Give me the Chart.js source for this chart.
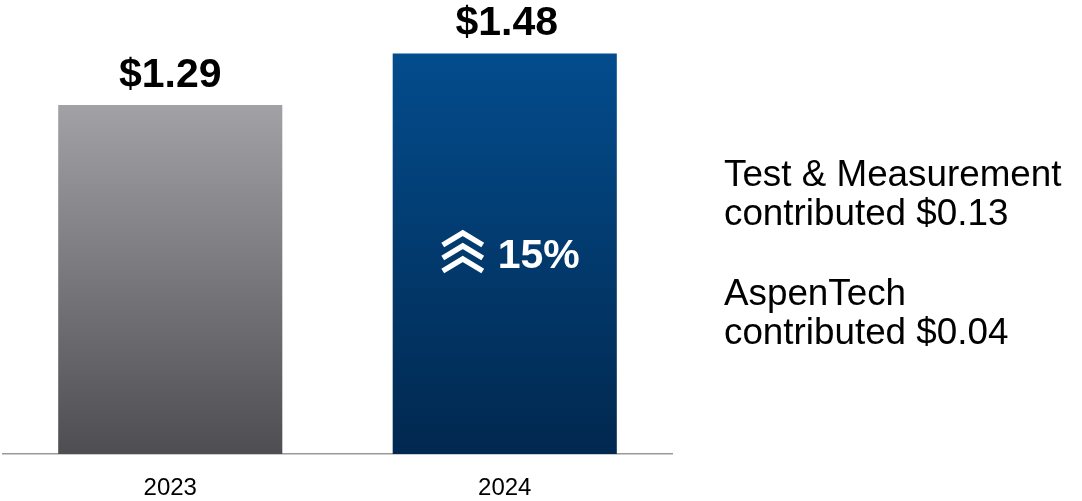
<!DOCTYPE html>
<html>
<head>
<meta charset="utf-8">
<script src="https://cdn.jsdelivr.net/npm/chart.js@4"></script>
<style>
  body { margin: 0; background: #fff; }
  #wrap { position: relative; width: 1082px; height: 501px; }
  .note { position: absolute; left: 724px; font-family: "Liberation Sans", Arial, sans-serif; font-size: 36.8px; color: #000; line-height: 39px; white-space: nowrap; }
</style>
</head>
<body>
<div id="wrap">
  <canvas id="epsChart" width="1082" height="501"></canvas>
  <div class="note" style="top:154px">Test &amp; Measurement<br>contributed $0.13</div>
  <div class="note" style="top:273px">AspenTech<br>contributed $0.04</div>
</div>
<script>
const years = ['2023', '2024'];
const eps = [1.29, 1.48];
const valueLabels = ['$1.29', '$1.48'];
const growthLabel = '15%';
const topColors = ['#a2a2a6', '#034c8d'];
const bottomColors = ['#4e4e52', '#01284f'];

// value labels above bars + growth badge inside 2024 bar
const barLabels = {
    id: 'barLabels',
    afterDatasetsDraw(chart) {
        const ctx = chart.ctx;
        const meta = chart.getDatasetMeta(0);
        ctx.save();
        ctx.textAlign = 'center';
        ctx.textBaseline = 'alphabetic';
        ctx.font = 'bold 41px "Liberation Sans", Arial, sans-serif';
        ctx.fillStyle = '#000';
        meta.data.forEach(function(bar, i) {
            ctx.fillText(valueLabels[i], bar.x + (i === 1 ? 2 : 0), bar.y - 18);
        });

        // growth badge
        const bar = meta.data[1];
        ctx.fillStyle = '#fff';
        ctx.textAlign = 'left';
        ctx.fillText(growthLabel, bar.x - 7, 268);

        // chevrons
        ctx.strokeStyle = '#fff';
        ctx.lineWidth = 5.5;
        ctx.lineCap = 'butt';
        ctx.lineJoin = 'miter';
        const cx = bar.x - 42;
        for (let k = 0; k < 3; k++) {
            const ay = 233 + k * 13;
            ctx.beginPath();
            ctx.moveTo(cx - 20, ay + 12);
            ctx.lineTo(cx, ay);
            ctx.lineTo(cx + 20, ay + 12);
            ctx.stroke();
        }
        ctx.restore();
    }
};

new Chart(document.getElementById('epsChart'), {
    type: 'bar',
    data: {
        labels: years,
        datasets: [{
            data: eps,
            backgroundColor: function(context) {
                const chart = context.chart;
                const area = chart.chartArea;
                if (!area) return topColors[context.dataIndex];
                const yScale = chart.scales.y;
                const top = yScale.getPixelForValue(eps[context.dataIndex]);
                const g = chart.ctx.createLinearGradient(0, top, 0, area.bottom);
                g.addColorStop(0, topColors[context.dataIndex]);
                g.addColorStop(1, bottomColors[context.dataIndex]);
                return g;
            },
            borderWidth: 0,
            barPercentage: 0.67,
            categoryPercentage: 1.0
        }]
    },
    options: {
        responsive: false,
        animation: false,
        layout: { padding: { left: 3, right: 410, top: 21, bottom: 0 } },
        plugins: {
            legend: { display: false },
            tooltip: { enabled: false }
        },
        scales: {
            x: {
                grid: { display: false },
                border: { display: true, color: '#9a9a9a', width: 1.5 },
                ticks: {
                    color: '#000',
                    padding: 12,
                    font: { family: '"Liberation Sans", Arial, sans-serif', size: 24 }
                },
                afterFit: function(scale) { scale.height = 47; }
            },
            y: {
                display: false,
                min: 0,
                max: 1.6
            }
        }
    },
    plugins: [barLabels]
});
</script>
</body>
</html>
